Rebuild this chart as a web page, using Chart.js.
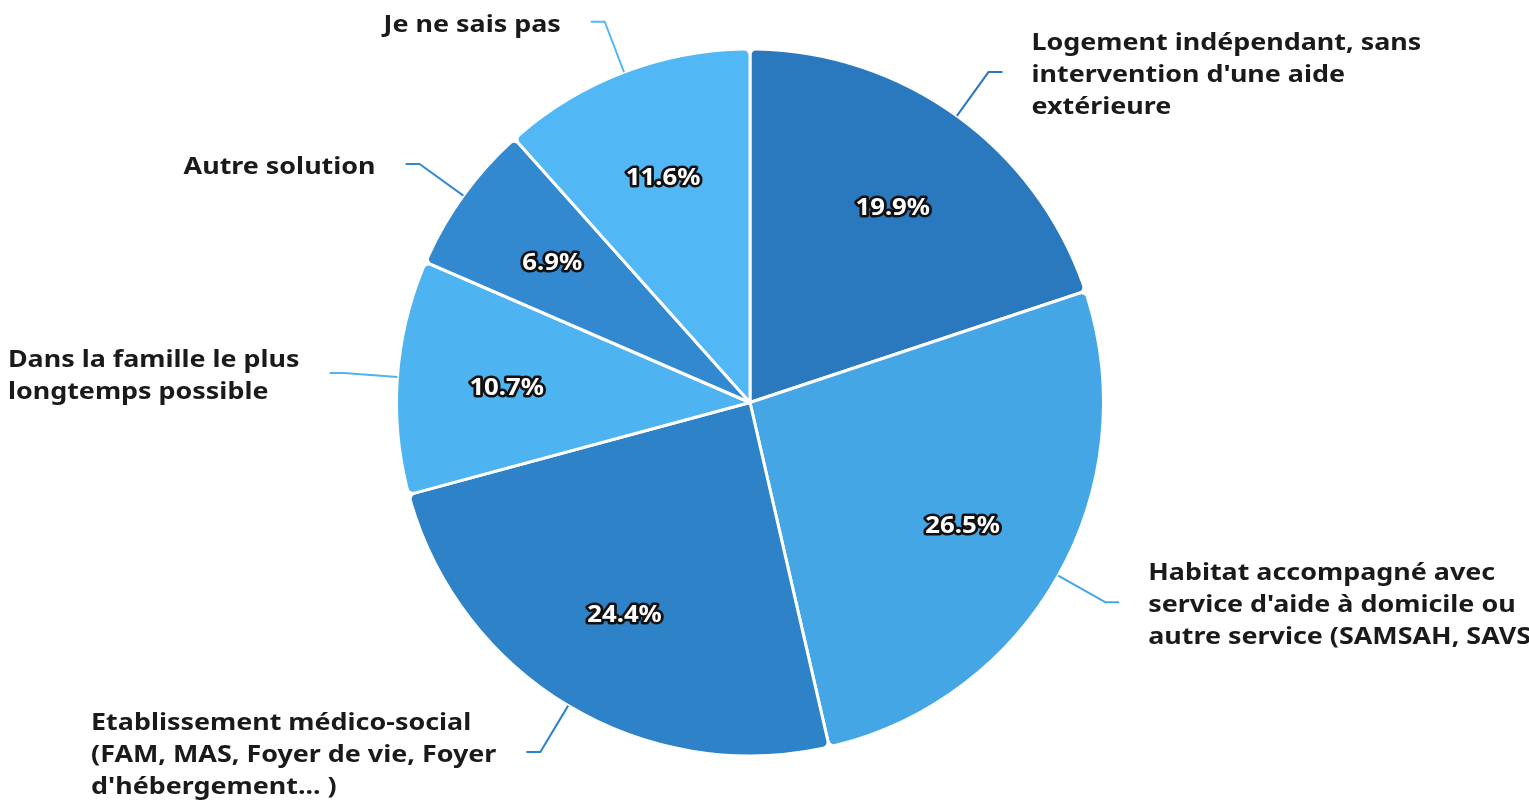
<!DOCTYPE html>
<html>
<head>
<meta charset="utf-8">
<script src="https://cdn.jsdelivr.net/npm/chart.js@4/dist/chart.umd.min.js"></script>
<style>
  html, body { margin: 0; padding: 0; background: #ffffff; overflow: hidden; }
  #wrap { position: relative; width: 1529px; height: 803px; }
</style>
</head>
<body>
<div id="wrap"><canvas id="camembert"></canvas></div>
<script>
const categories = [
  ['Logement indépendant, sans', "intervention d'une aide", 'extérieure'],
  ['Habitat accompagné avec', "service d'aide à domicile ou", 'autre service (SAMSAH, SAVS)'],
  ['Etablissement médico-social', '(FAM, MAS, Foyer de vie, Foyer', "d'hébergement... )"],
  ['Dans la famille le plus', 'longtemps possible'],
  ['Autre solution'],
  ['Je ne sais pas']
];
const pourcentages = [19.9, 26.5, 24.4, 10.7, 6.9, 11.6];
const couleurs = ['#2a78be', '#45a6e6', '#2e82c8', '#4db3f1', '#3389d0', '#52b8f5'];

const policeLabel = 'bold 24px "Noto Sans", "Open Sans", sans-serif';
const policePct = 'bold 23px "Noto Sans", "Open Sans", sans-serif';
const etirement = 1.12; // le rendu d'origine est un peu élargi horizontalement

function texteEtire(ctx, txt, x, y, sx, contour) {
  ctx.save();
  ctx.translate(x, y);
  ctx.scale(sx, 1);
  if (contour) ctx.strokeText(txt, 0, 0);
  ctx.fillText(txt, 0, 0);
  ctx.restore();
}

const pluginEtiquettes = {
  id: 'etiquettes',
  afterDatasetsDraw(chart) {
    const { ctx } = chart;
    const meta = chart.getDatasetMeta(0);
    ctx.save();
    meta.data.forEach((arc, i) => {
      const { x, y, startAngle, endAngle, outerRadius } = arc.getProps(['x', 'y', 'startAngle', 'endAngle', 'outerRadius'], true);
      const mid = (startAngle + endAngle) / 2;
      const cos = Math.cos(mid), sin = Math.sin(mid);

      // ligne de rappel : segment radial puis horizontal
      const x0 = x + cos * outerRadius, y0 = y + sin * outerRadius;
      const x1 = x + cos * (outerRadius + 54), y1 = y + sin * (outerRadius + 54);
      const droite = cos >= 0;
      const x2 = x1 + (droite ? 14 : -14);
      ctx.strokeStyle = couleurs[i];
      ctx.lineWidth = 2;
      ctx.beginPath();
      ctx.moveTo(x0, y0);
      ctx.lineTo(x1, y1);
      ctx.lineTo(x2, y1);
      ctx.stroke();

      // texte de la catégorie
      const lignes = categories[i];
      ctx.font = policeLabel;
      ctx.fillStyle = '#1a1a1a';
      ctx.textBaseline = 'middle';
      ctx.textAlign = 'left';
      const hauteurLigne = 32;
      const largeur = Math.max(...lignes.map(l => ctx.measureText(l).width)) * etirement;
      const xt = droite ? x2 + 29 : x2 - 30 - largeur;
      const yt = y1 + 3 - (lignes.length - 1) * hauteurLigne / 2;
      lignes.forEach((l, k) => texteEtire(ctx, l, xt, yt + k * hauteurLigne, etirement, false));

      // pourcentage dans la part
      const rp = outerRadius * 0.69;
      const px = x + cos * rp, py = y + sin * rp + 4;
      const txt = pourcentages[i].toFixed(1) + '%';
      ctx.font = policePct;
      ctx.textAlign = 'center';
      ctx.lineJoin = 'round';
      ctx.lineWidth = 5;
      ctx.strokeStyle = '#111111';
      ctx.fillStyle = '#ffffff';
      texteEtire(ctx, txt, px, py, etirement, true);
    });
    ctx.restore();
  }
};

new Chart(document.getElementById('camembert'), {
  type: 'pie',
  data: {
    labels: categories.map(c => c.join(' ')),
    datasets: [{
      data: pourcentages,
      backgroundColor: couleurs,
      borderColor: '#ffffff',
      borderWidth: 3,
      borderRadius: 6,
    }]
  },
  plugins: [pluginEtiquettes],
  options: {
    responsive: true,
    maintainAspectRatio: false,
    animation: false,
    layout: { padding: { left: 395, right: 424, top: 47, bottom: 45 } },
    plugins: {
      legend: { display: false },
      tooltip: { enabled: false }
    }
  }
});
</script>
</body>
</html>
